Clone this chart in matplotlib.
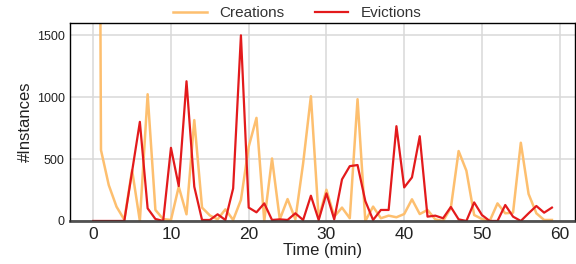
import matplotlib
matplotlib.use("Agg")
import matplotlib.pyplot as plt

plt.rcParams['font.family'] = ['Liberation Sans', 'DejaVu Sans']

# minutes 0..59
minutes = list(range(60))

creations = [15000, 573, 290, 115, 10, 411, 0, 1024, 89, 15,
             8, 277, 54, 815, 108, 45, 13, 94, 8, 170,
             600, 833, 0, 505, 13, 177, 13, 465, 1008, 22,
             252, 35, 108, 22, 984, 0, 116, 22, 43, 30,
             56, 175, 56, 89, 13, 0, 105, 565, 406, 48,
             16, 0, 142, 62, 67, 632, 218, 62, 8, 8]

evictions = [0, 0, 0, 0, 0, 400, 801, 102, 16, 0,
             591, 282, 1129, 277, 8, 8, 54, 8, 263, 1500,
             108, 70, 142, 8, 13, 8, 62, 8, 204, 8,
             223, 13, 336, 443, 452, 161, 8, 89, 89, 766,
             271, 352, 685, 35, 43, 22, 113, 13, 0, 150,
             48, 0, 0, 129, 35, 0, 62, 121, 67, 108]

yticks = [0, 500, 1000, 1500]
xticks = [0, 10, 20, 30, 40, 50, 60]

fig = plt.figure(figsize=(5.76, 2.64), dpi=100)
ax = fig.add_axes([0.122, 0.163, 0.876, 0.75])

ax.plot(minutes, creations, color='#fdbf6f', lw=1.8, label='Creations', zorder=2)
ax.plot(minutes, evictions, color='#e31a1c', lw=1.6, label='Evictions', zorder=2)

ax.set_ylim(0, 1600)
ax.set_xticks(xticks)
ax.set_yticks(yticks)
ax.grid(True, color='#d9d9d9', lw=1.1)
ax.set_axisbelow(True)
ax.tick_params(axis='x', labelsize=12.5, length=0, pad=4, colors='#222222')
ax.tick_params(axis='y', labelsize=9, length=0, pad=4, colors='#222222')

for s in ['top', 'left', 'right']:
    ax.spines[s].set_color('black')
    ax.spines[s].set_linewidth(1)
ax.spines['bottom'].set_color('#333333')
ax.spines['bottom'].set_alpha(0.85)
ax.spines['bottom'].set_linewidth(2)
ax.spines['bottom'].set_zorder(3)

ax.set_xlabel('Time (min)', fontsize=12, labelpad=1, color='#222222')
ax.set_ylabel('#Instances', fontsize=12, labelpad=3, color='#222222')

ax.legend(loc='center', bbox_to_anchor=(0.45, 1.05), ncol=2, frameon=False,
          fontsize=11, handlelength=2.2, columnspacing=2.0, borderaxespad=0,
          labelcolor='#333333')

fig.savefig('out.png', dpi=100)
